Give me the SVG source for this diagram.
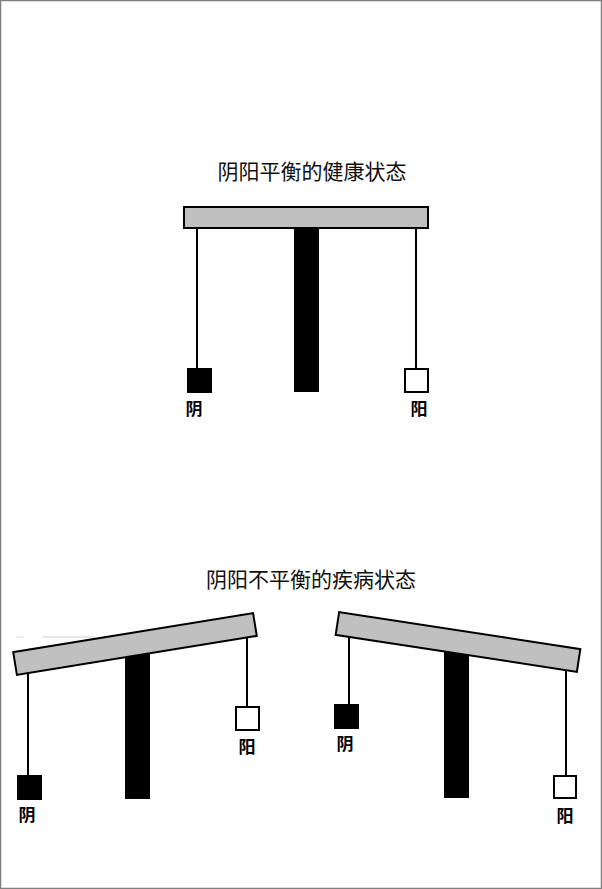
<svg xmlns="http://www.w3.org/2000/svg" width="602" height="889" viewBox="0 0 602 889">
<style>
.title{font-family:"Noto Sans CJK SC","Noto Sans",sans-serif;font-size:21px;fill:#111;text-anchor:middle}
.lbl{font-family:"Noto Sans CJK SC","Noto Sans",sans-serif;font-size:17px;font-weight:bold;fill:#000;text-anchor:middle}
.beam{fill:#c0c0c0;stroke:#000;stroke-width:2}
.col{fill:#000}
.str{stroke:#000;stroke-width:2;fill:none}
.yin{fill:#000;stroke:#000;stroke-width:2}
.yang{fill:#fff;stroke:#000;stroke-width:2}
</style>
<rect x="0" y="0" width="602" height="889" fill="#fff"/>
<rect x="0.5" y="0.5" width="601" height="888" fill="none" stroke="#808080" stroke-width="1.5"/>
<line x1="16" y1="637" x2="24" y2="637" stroke="#d8d8d8" stroke-width="1"/>
<line x1="42" y1="637" x2="95" y2="637" stroke="#d0d0d0" stroke-width="1"/>

<text class="title" x="312" y="179">阴阳平衡的健康状态</text>
<text class="title" x="311" y="587">阴阳不平衡的疾病状态</text>

<g id="balance-top">
  <rect class="col" x="294" y="226" width="25" height="166"/>
  <g class="connectors">
    <line class="str" x1="197" y1="226" x2="197" y2="369"/>
    <line class="str" x1="416" y1="226" x2="416" y2="369"/>
  </g>
  <rect class="beam" x="184" y="207" width="244" height="21"/>
  <g id="top-yin"><rect class="yin" x="188" y="369" width="23" height="23"/><text class="lbl" x="194" y="415">阴</text></g>
  <g id="top-yang"><rect class="yang" x="405" y="369" width="23" height="23"/><text class="lbl" x="419" y="415">阳</text></g>
</g>

<g id="balance-left">
  <rect class="col" x="125" y="648" width="25" height="151"/>
  <g class="connectors">
    <line class="str" x1="28" y1="665" x2="28" y2="776"/>
    <line class="str" x1="247" y1="630" x2="247" y2="707"/>
  </g>
  <rect class="beam" x="13.5" y="632.5" width="243" height="23" transform="rotate(-9.2 135 644)"/>
  <g id="left-yin"><rect class="yin" x="18" y="776" width="23" height="23"/><text class="lbl" x="27" y="821">阴</text></g>
  <g id="left-yang"><rect class="yang" x="236" y="707" width="23" height="23"/><text class="lbl" x="247" y="753">阳</text></g>
</g>

<g id="balance-right">
  <rect class="col" x="444" y="645" width="25" height="153"/>
  <g class="connectors">
    <line class="str" x1="349" y1="625" x2="349" y2="705"/>
    <line class="str" x1="566" y1="660" x2="566" y2="776"/>
  </g>
  <rect class="beam" x="336" y="630.5" width="244" height="23" transform="rotate(8.7 458 642)"/>
  <g id="right-yin"><rect class="yin" x="335" y="705" width="23" height="23"/><text class="lbl" x="345" y="750">阴</text></g>
  <g id="right-yang"><rect class="yang" x="554" y="776" width="22" height="22"/><text class="lbl" x="565" y="822">阳</text></g>
</g>
</svg>
